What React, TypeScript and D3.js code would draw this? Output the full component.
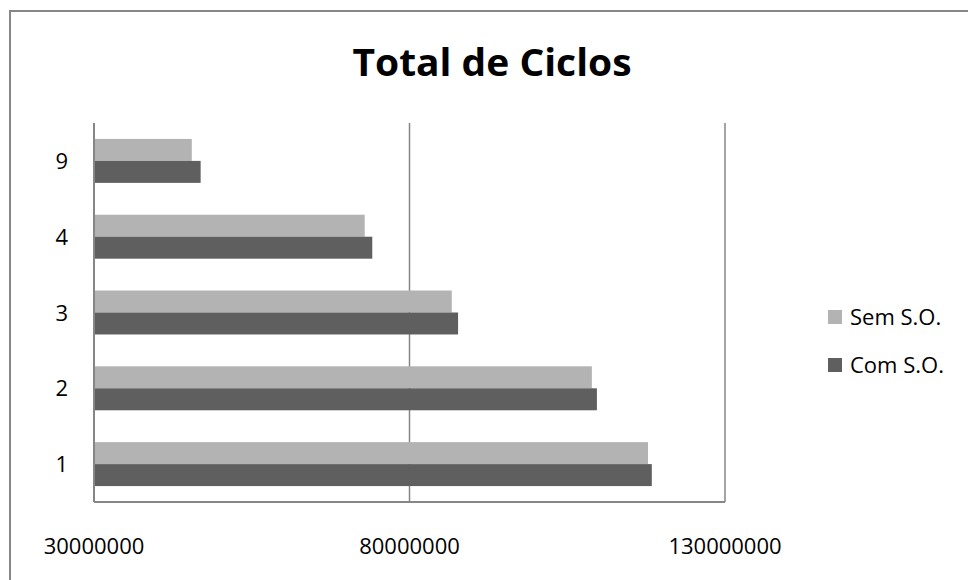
import React from "react";
import * as d3 from "d3";

const categories = ["1", "2", "3", "4", "9"];
const seriesNames = ["Sem S.O.", "Com S.O."];
const semSO = [117.8e6, 108.9e6, 86.7e6, 72.9e6, 45.5e6];
const comSO = [118.4e6, 109.7e6, 87.7e6, 74.1e6, 46.9e6];
const xTicks = [30000000, 80000000, 130000000];
const colors = ["#b3b3b3", "#5f5f5f"];

const FONT = "'Open Sans', 'Noto Sans', sans-serif";

export default function App() {
  const W = 968, H = 580;
  const plot = { left: 94, right: 725, top: 123, bottom: 502 };
  const x = d3.scaleLinear().domain([30000000, 130000000]).range([plot.left, plot.right]);
  const y = d3.scaleBand<string>().domain([...categories].reverse()).range([plot.top, plot.bottom]).paddingInner(0.42).paddingOuter(0.21);
  const inner = d3.scaleBand<string>().domain(seriesNames).range([0, y.bandwidth()]);
  const series = [semSO, comSO];

  return (
    <svg width={W} height={H} style={{ position: "absolute", left: 0, top: 0 }}>
      <rect x={0} y={0} width={W} height={H} fill="#fff" />
      <rect x={10} y={11} width={1000} height={620} fill="none" stroke="#878787" strokeWidth={2} />
      <text x={492} y={76} textAnchor="middle" fontFamily={FONT} fontWeight="bold" fontSize={38} textLength={279} lengthAdjust="spacingAndGlyphs" fill="#000">
        Total de Ciclos
      </text>
      {xTicks.slice(1).map((t) => (
        <line key={t} x1={x(t)} x2={x(t)} y1={plot.top} y2={plot.bottom} stroke="#868686" strokeWidth={1.5} />
      ))}
      {series.map((vals, si) =>
        categories.map((c, i) => (
          <rect
            key={si + "-" + c}
            x={x(30000000)}
            y={(y(c) as number) + (inner(seriesNames[si]) as number)}
            width={x(vals[i]) - x(30000000)}
            height={inner.bandwidth()}
            fill={colors[si]}
          />
        ))
      )}
      <line x1={plot.left} x2={plot.left} y1={plot.top} y2={plot.bottom} stroke="#868686" strokeWidth={2} />
      <line x1={plot.left} x2={plot.right} y1={plot.bottom} y2={plot.bottom} stroke="#868686" strokeWidth={2} />
      {xTicks.map((t) => (
        <text key={t} x={x(t)} y={554} textAnchor="middle" fontFamily={FONT} fontSize={22} fill="#000">
          {String(t)}
        </text>
      ))}
      {categories.map((c) => (
        <text key={c} x={68} y={(y(c) as number) + y.bandwidth() / 2 + 8} textAnchor="end" fontFamily={FONT} fontSize={22} fill="#000">
          {c}
        </text>
      ))}
      {seriesNames.map((s, i) => (
        <g key={s} transform={`translate(828, ${310 + i * 48})`}>
          <rect x={0} y={0} width={14} height={14} fill={colors[i]} />
          <text x={22} y={15} fontFamily={FONT} fontSize={22} fill="#000">
            {s}
          </text>
        </g>
      ))}
    </svg>
  );
}
